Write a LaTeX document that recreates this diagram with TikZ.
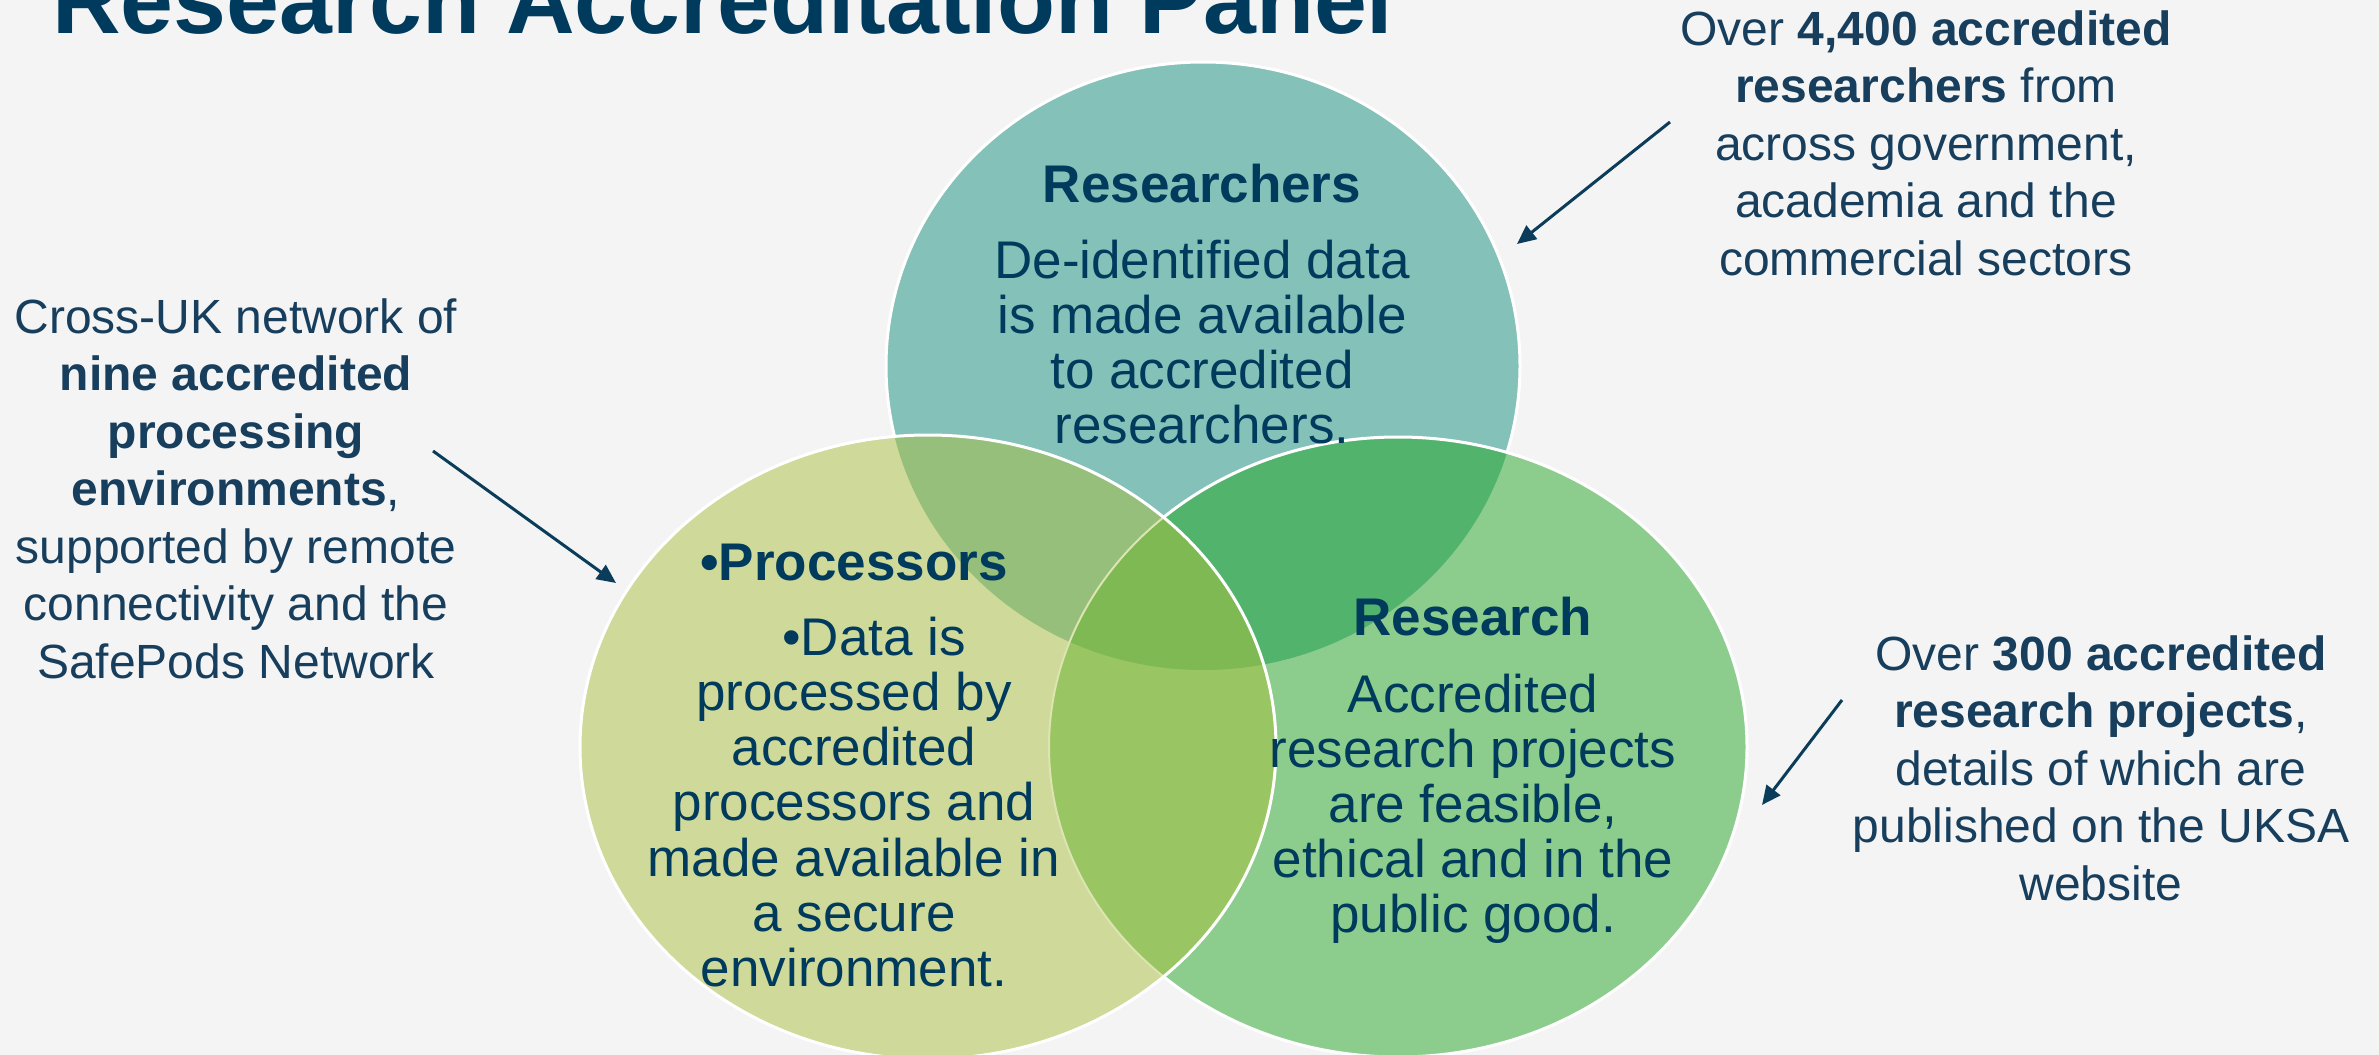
\documentclass[tikz,border=0pt]{standalone}
\usepackage{fontspec}
\setmainfont{Liberation Sans}
\usetikzlibrary{arrows.meta}

\definecolor{pagebg}{HTML}{F4F4F4}
\definecolor{navy}{HTML}{003A5C}
\definecolor{sidetext}{HTML}{173E5C}
\definecolor{arrowc}{HTML}{0B3C5A}
\definecolor{cteal}{HTML}{84C1B8}
\definecolor{cgreen}{HTML}{8CCD8E}
\definecolor{cyellow}{HTML}{CFD999}
\definecolor{cTG}{HTML}{52B36D}
\definecolor{cTY}{HTML}{95BF7A}
\definecolor{cGY}{HTML}{9AC563}
\definecolor{cTGY}{HTML}{7EB953}
\definecolor{faintrim}{HTML}{DCE4B2}

% the three sets of the diagram
\def\ellT{(1203,366) ellipse [x radius=317, y radius=304]}
\def\ellG{(1398,747) ellipse [x radius=349, y radius=310]}
\def\ellY{(928,747) ellipse [x radius=348, y radius=312]}

\begin{document}
\begin{tikzpicture}[x=0.5pt,y=-0.5pt,
  line/.style={anchor=base,inner sep=0pt,text=navy,font=\fontsize{26.5}{31}\selectfont},
  heading/.style={line,font=\fontsize{26.5}{31}\selectfont\bfseries},
  side/.style={anchor=base,inner sep=0pt,text=sidetext,font=\fontsize{24}{29}\selectfont},
  pointer/.style={draw=arrowc,line width=1.5pt,-{Triangle[length=9.5pt,width=8.5pt]}},
  rim/.style={draw=white,line width=1.5pt}]

\fill[pagebg] (0,0) rectangle (2379,1055);
\useasboundingbox (0,0) rectangle (2379,1055);

% title
\node[anchor=base west,inner sep=0pt,text=navy,
      font=\fontsize{47.5}{55}\selectfont\bfseries] (title) at (52,33)
      {Research Accreditation Panel};

% Researchers set
\fill[cteal] \ellT;
\draw[rim] \ellT;

% Research set
\fill[cgreen] \ellG;
\begin{scope}
  \clip \ellT;
  \fill[cTG] \ellG;
\end{scope}
\draw[rim] \ellG;

% Processors set
\fill[cyellow] \ellY;
\begin{scope}
  \clip \ellT;
  \fill[cTY] \ellY;
\end{scope}
\begin{scope}
  \clip \ellG;
  \fill[cGY] \ellY;
\end{scope}
\begin{scope}
  \clip \ellG;
  \clip \ellT;
  \fill[cTGY] \ellY;
\end{scope}
\begin{scope}
  \clip \ellY;
  \draw[draw=faintrim,line width=1pt] \ellG;
\end{scope}
\draw[rim] \ellY;

% texts inside the sets
\node[heading] (t-head) at (1202,202) {Researchers};
\foreach \t [count=\i] in {De-identified data, is made available, to accredited, researchers.}
  \node[line] (t-\i) at (1202,{278+55*(\i-1)}) {\t};

\node[heading] (p-head) at (854,580) {•Processors};
\node[line] (p-1) at (874,655) {•Data is};
\foreach \t [count=\i from 2] in {processed by, accredited, processors and, made available in, a secure, environment.}
  \node[line] (p-\i) at (854,{655+55.3*(\i-1)}) {\t};

\node[heading] (r-head) at (1473,635) {Research};
\foreach \t [count=\i] in {Accredited, research projects, {are feasible,}, ethical and in the, public good.}
  \node[line] (r-\i) at (1473,{712+55*(\i-1)}) {\t};

% call-outs
\foreach \t [count=\i] in {{Over \textbf{4,400 accredited}}, {\textbf{researchers} from}, {across government,}, academia and the, commercial sectors}
  \node[side] (ca-\i) at (1926,{45+57.5*(\i-1)}) {\t};

\foreach \t [count=\i] in {Cross-UK network of, \textbf{nine accredited}, \textbf{processing}, {\textbf{environments},}, supported by remote, connectivity and the, SafePods Network}
  \node[side] (cb-\i) at (236,{333+57.5*(\i-1)}) {\t};

\foreach \t [count=\i] in {{Over \textbf{300 accredited}}, {\textbf{research projects},}, details of which are, published on the UKSA, website}
  \node[side] (cc-\i) at (2101,{670+57.5*(\i-1)}) {\t};

% pointers from the call-outs to the sets
\coordinate (pa-from) at (1670,122);
\coordinate (pa-to) at (1517,244);
\coordinate (pb-from) at (433,451);
\coordinate (pb-to) at (616,583);
\coordinate (pc-from) at (1842,700);
\coordinate (pc-to) at (1762,805);
\draw[pointer] (pa-from) -- (pa-to);
\draw[pointer] (pb-from) -- (pb-to);
\draw[pointer] (pc-from) -- (pc-to);
\end{tikzpicture}
\end{document}
